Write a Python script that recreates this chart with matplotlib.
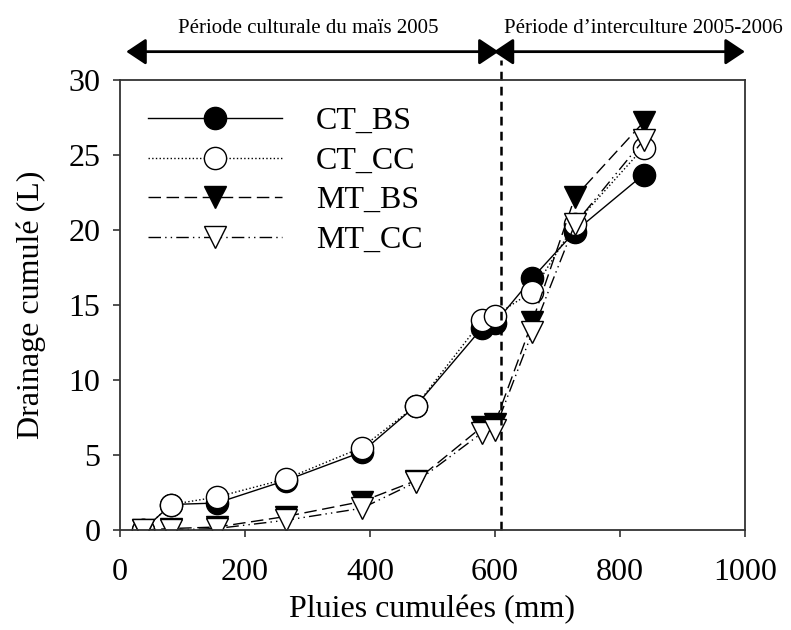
#!/usr/bin/env python3
"""Cumulative drainage vs cumulative rainfall, CT/MT x BS/CC."""

import matplotlib
matplotlib.use("Agg")
import matplotlib.pyplot as plt

plt.rcParams["font.family"] = ["Liberation Serif", "DejaVu Serif"]

# data
pluies = [37, 82, 155, 265, 387, 474, 580, 600, 660, 728, 838]
ct_bs = [0, 1.7, 1.8, 3.3, 5.2, 8.3, 13.5, 13.8, 16.8, 19.9, 23.7]
ct_cc = [0, 1.7, 2.2, 3.4, 5.5, 8.3, 14.0, 14.3, 15.9, 20.4, 25.5]
mt_bs = [0, 0.1, 0.2, 0.9, 1.9, 3.3, 6.9, 7.1, 13.9, 22.2, 27.2]
mt_cc = [0, 0, 0.1, 0.65, 1.45, 3.2, 6.5, 6.7, 13.2, 20.4, 26.0]

series_labels = ["CT_BS", "CT_CC", "MT_BS", "MT_CC"]
limite_periode = 610
periodes = ["Période culturale du maïs 2005", "Période d\u2019interculture 2005-2006"]

styles = [
    dict(linestyle="-", marker="o", markerfacecolor="black"),
    dict(linestyle=":", marker="o", markerfacecolor="white"),
    dict(linestyle=(0, (9, 4)), marker="v", markerfacecolor="black"),
    dict(linestyle=(0, (9, 3, 1, 3, 1, 3)), marker="v", markerfacecolor="white"),
]


def main() -> None:
    fig = plt.figure(figsize=(7.91, 6.30), dpi=100)
    ax = fig.add_axes([0.1517, 0.1587, 0.79, 0.7143])

    for values, label, style in zip([ct_bs, ct_cc, mt_bs, mt_cc], series_labels, styles):
        ax.plot(pluies, values, color="black", linewidth=1.0, markersize=16,
                markeredgecolor="black", markeredgewidth=1.0, label=label, **style)

    ax.set_xlim(0, 1000)
    ax.set_ylim(0, 30)
    ax.set_xticks(range(0, 1001, 200))
    ax.set_yticks(range(0, 31, 5))
    ax.tick_params(direction="out", length=5, width=1.2, labelsize=23, color="#333333")
    ax.tick_params(axis="x", pad=15)
    ax.tick_params(axis="y", pad=9)
    for spine in ax.spines.values():
        spine.set_linewidth(1.3)
        spine.set_color("#333333")

    ax.set_xlabel("Pluies cumulées (mm)", fontsize=23, labelpad=6)
    ax.set_ylabel("Drainage cumulé (L)", fontsize=23, labelpad=16)

    # vertical separator, runs above the axes up to the arrows
    trans = ax.get_xaxis_transform()
    ax.plot([limite_periode, limite_periode], [0, 1.045], transform=trans, color="black",
            linestyle=(0, (3.5, 2.5)), linewidth=1.8, clip_on=False)

    # period arrows
    y_arrow = 1.063
    arrow = dict(arrowstyle="<|-|>,head_length=1.2,head_width=0.8", color="black",
                 linewidth=2.0, shrinkA=0, shrinkB=0)
    ax.annotate("", xy=(10, y_arrow), xytext=(limite_periode - 4, y_arrow), xycoords=trans,
                textcoords=trans, arrowprops=arrow, annotation_clip=False)
    ax.annotate("", xy=(limite_periode - 12, y_arrow), xytext=(1000, y_arrow), xycoords=trans,
                textcoords=trans, arrowprops=arrow, annotation_clip=False)
    ax.text(302, 1.104, periodes[0], transform=trans, ha="center", va="baseline", fontsize=15)
    ax.text(838, 1.104, periodes[1], transform=trans, ha="center", va="baseline", fontsize=15)

    ax.legend(loc="upper left", bbox_to_anchor=(0.0245, 0.969), frameon=False, fontsize=23,
              numpoints=1, handlelength=4.2, handletextpad=1.05, labelspacing=0.32,
              borderaxespad=0)

    fig.savefig("out.png", dpi=100)
    plt.close(fig)


if __name__ == "__main__":
    main()
